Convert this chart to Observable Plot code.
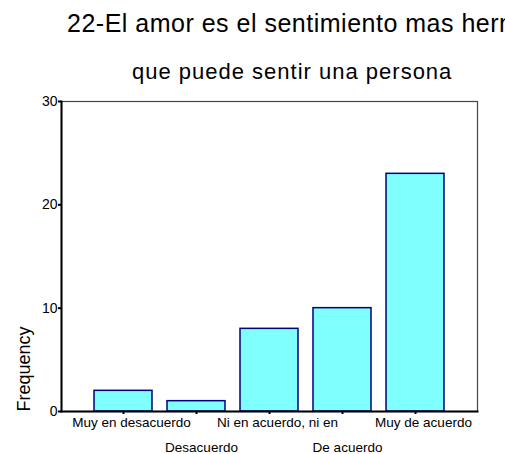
<!DOCTYPE html>
<html><head><meta charset="utf-8">
<script src="https://cdn.jsdelivr.net/npm/d3@7"></script>
<script src="https://cdn.jsdelivr.net/npm/@observablehq/plot@0.6"></script>
<style>
body{margin:0;background:#fff;font-family:Arial,"Liberation Sans",sans-serif;}
#wrap{position:relative;width:505px;height:454px;overflow:hidden;}
.t{position:absolute;white-space:nowrap;color:#000;}
#t1{left:67px;top:11px;font-size:25px;line-height:25px;letter-spacing:0.5px;}
#t2{left:132px;top:61px;font-size:22px;line-height:22px;letter-spacing:1px;}
#chart{position:absolute;left:0;top:90px;}
</style></head><body>
<div id="wrap">
<div class="t" id="t1">22-El amor es el sentimiento mas hermoso</div>
<div class="t" id="t2">que puede sentir una persona</div>
<div id="chart"></div>
</div>
<script>
const categories = ["Muy en desacuerdo", "Desacuerdo", "Ni en acuerdo, ni en", "De acuerdo", "Muy de acuerdo"];
const frequency = [2, 1, 8, 10, 23];
const yTicks = [0, 10, 20, 30];
const yLabel = "Frequency";

const data = categories.map((c, i) => ({category: c, value: frequency[i]}));
const rowOne = categories.filter((d, i) => i % 2 === 0);
const rowTwo = categories.filter((d, i) => i % 2 === 1);

const chart = Plot.plot({
  width: 505,
  height: 364,
  marginTop: 11,
  marginBottom: 43,
  marginLeft: 61,
  marginRight: 28,
  style: {fontFamily: "Arial, 'Liberation Sans', sans-serif", color: "#000", background: "#fff"},
  x: {domain: categories, paddingInner: 0.2, paddingOuter: 0.43, axis: null},
  y: {domain: [0, 30], axis: null},
  marks: [
    Plot.barY(data, {x: "category", y: "value", fill: "#80ffff", stroke: "#000080", strokeWidth: 1.5}),
    Plot.frame({stroke: "#444", strokeWidth: 1.2}),
    Plot.frame({anchor: "left", stroke: "#000", strokeWidth: 2}),
    Plot.frame({anchor: "bottom", stroke: "#000", strokeWidth: 2}),
    Plot.axisY(yTicks, {tickSize: 3, tickPadding: 1, fontSize: 14, strokeWidth: 2, label: null}),
    Plot.axisX(categories, {tickSize: 3, strokeWidth: 2, tickFormat: () => "", label: null}),
    Plot.text(rowOne, {x: d => d, frameAnchor: "bottom", lineAnchor: "top", dy: 6, dx: 8, fontSize: 13.5, fill: "#000"}),
    Plot.text(rowTwo, {x: d => d, frameAnchor: "bottom", lineAnchor: "top", dy: 31, dx: 5, fontSize: 13.5, fill: "#000"}),
    Plot.text([yLabel], {frameAnchor: "bottom-left", rotate: -90, textAnchor: "start", dx: -32, fontSize: 18, fill: "#000"})
  ]
});
document.getElementById("chart").appendChild(chart);
</script>
</body></html>
